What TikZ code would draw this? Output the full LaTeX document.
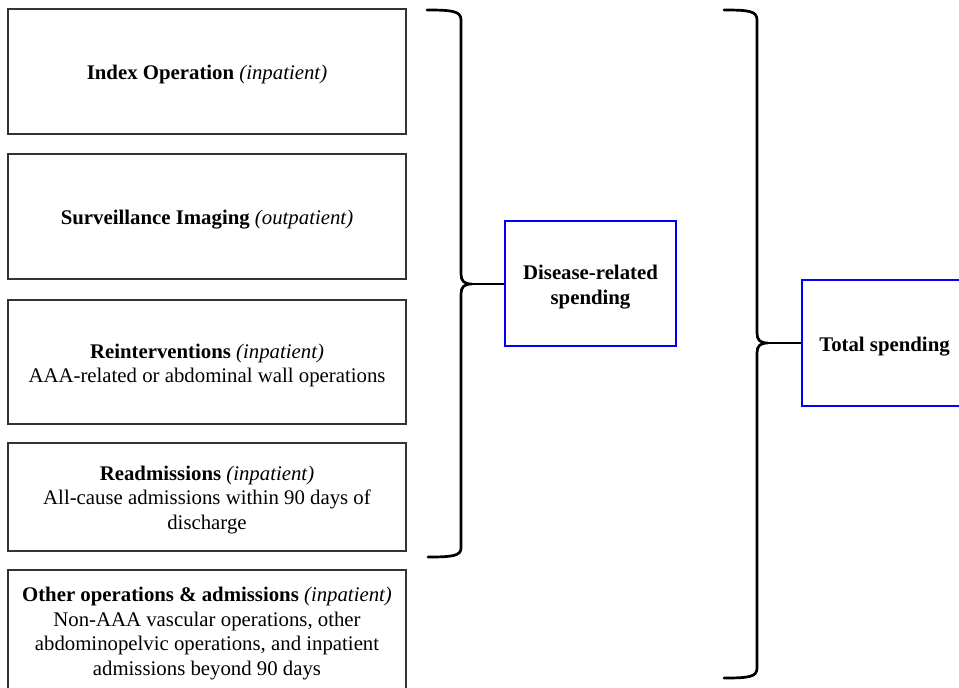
\documentclass[tikz,border=0pt]{standalone}
\usepackage{fontspec}
\setmainfont{Liberation Serif}
\definecolor{boxblue}{RGB}{0,0,255}
\begin{document}
\begin{tikzpicture}[x=1pt,y=-1pt,
  catbox/.style={draw=black!80, line width=1.3pt, minimum width=398pt, inner sep=0pt},
  sumbox/.style={draw=boxblue, line width=2.9pt, inner sep=0pt},
  boxtext/.style={align=center, inner sep=0pt, font=\fontsize{20.8}{24.7}\selectfont},
  sumtext/.style={align=center, inner sep=0pt, font=\fontsize{20.8}{25}\selectfont\bfseries},
  bracestyle/.style={line width=2.7pt, line join=round, line cap=round},
  link/.style={line width=2.3pt}]
\useasboundingbox (0,0) rectangle (959,688);
\clip (0,0) rectangle (959,688);
\fill[white] (0,0) rectangle (959,688);

\node[catbox, minimum height=125pt] (b1) at (207,71.5) {};
\node[catbox, minimum height=125pt] (b2) at (207,216.5) {};
\node[catbox, minimum height=124pt] (b3) at (207,362) {};
\node[catbox, minimum height=108pt] (b4) at (207,497) {};
\node[catbox, minimum height=122pt] (b5) at (207,631) {};

\node[boxtext] (t1) at ([yshift=-3pt]b1.center) {\textbf{Index Operation} \textit{(inpatient)}};
\node[boxtext] (t2) at ([yshift=-3pt]b2.center) {\textbf{Surveillance Imaging} \textit{(outpatient)}};
\node[boxtext] (t3) at ([yshift=-3.5pt]b3.center) {\textbf{Reinterventions} \textit{(inpatient)}\\AAA-related or abdominal wall operations};
\node[boxtext] (t4) at ([yshift=-3pt]b4.center) {\textbf{Readmissions} \textit{(inpatient)}\\All-cause admissions within 90 days of\\discharge};
\node[boxtext] (t5) at ([yshift=-2.5pt]b5.center) {\textbf{Other operations \& admissions} \textit{(inpatient)}\\Non-AAA vascular operations, other\\abdominopelvic operations, and inpatient\\admissions beyond 90 days};

\node[sumbox, minimum width=171pt, minimum height=125pt] (dis) at (590.5,283.5) {};
\node[sumtext] (dist) at ([yshift=-3.5pt]dis.center) {Disease-related\\spending};
\node[sumbox, minimum width=165pt, minimum height=126pt] (tot) at (884.5,343) {};
\node[sumtext] (tott) at ([yshift=-3.5pt]tot.center) {Total spending};

% brace 1
\coordinate (c1) at (472,284);
\draw[bracestyle] (427,10) .. controls (452,10) and (461,11) .. (461,20) -- (461,274)
  .. controls (461,281) and (464,284) .. (c1)
  .. controls (464,284) and (461,287) .. (461,294) -- (461,548)
  .. controls (461,556) and (452,557) .. (428,557);
\draw[link] (c1) -- (dis.west |- c1);

% brace 2
\coordinate (c2) at (768,343);
\draw[bracestyle] (724,10) .. controls (749,10) and (757,11) .. (757,20) -- (757,333)
  .. controls (757,340) and (760,343) .. (c2)
  .. controls (760,343) and (757,346) .. (757,353) -- (757,668)
  .. controls (757,677) and (749,678) .. (724,678);
\draw[link] (c2) -- (tot.west |- c2);
\end{tikzpicture}
\end{document}
